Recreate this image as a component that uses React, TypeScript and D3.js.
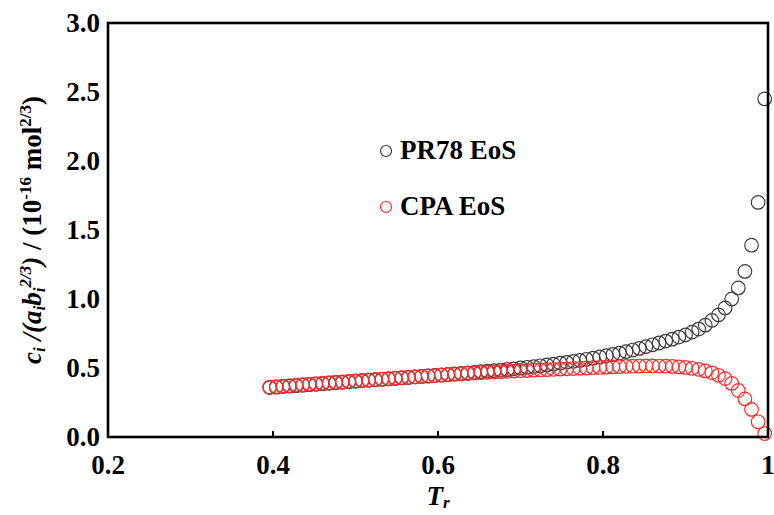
import React from "react";
import * as d3 from "d3";

// reduced temperature
const trValues = [
  0.396, 0.404, 0.412, 0.42, 0.428, 0.436, 0.444, 0.452, 0.46, 0.468, 0.476, 0.484, 0.492, 0.5,
  0.508, 0.516, 0.524, 0.532, 0.54, 0.548, 0.556, 0.564, 0.572, 0.58, 0.588, 0.596, 0.604, 0.612,
  0.62, 0.628, 0.636, 0.644, 0.652, 0.66, 0.668, 0.676, 0.684, 0.692, 0.7, 0.708, 0.716, 0.724,
  0.732, 0.74, 0.748, 0.756, 0.764, 0.772, 0.78, 0.788, 0.796, 0.804, 0.812, 0.82, 0.828, 0.836,
  0.844, 0.852, 0.86, 0.868, 0.876, 0.884, 0.892, 0.9, 0.908, 0.916, 0.924, 0.932, 0.94, 0.948,
  0.956, 0.964, 0.972, 0.98, 0.988, 0.996,
];

const pr78Values = [
  0.358, 0.361, 0.365, 0.368, 0.372, 0.375, 0.379, 0.382, 0.386, 0.389, 0.393, 0.396, 0.4, 0.403,
  0.407, 0.41, 0.414, 0.417, 0.421, 0.424, 0.428, 0.431, 0.435, 0.439, 0.442, 0.446, 0.45, 0.453,
  0.457, 0.461, 0.465, 0.469, 0.473, 0.477, 0.481, 0.485, 0.489, 0.494, 0.5, 0.505, 0.51, 0.516,
  0.522, 0.528, 0.535, 0.541, 0.548, 0.555, 0.563, 0.571, 0.58, 0.589, 0.598, 0.608, 0.619, 0.63,
  0.642, 0.655, 0.668, 0.681, 0.695, 0.709, 0.724, 0.74, 0.76, 0.782, 0.81, 0.845, 0.885, 0.935,
  1.0, 1.08, 1.2, 1.39, 1.7, 2.45,
];

const cpaValues = [
  0.362, 0.365, 0.369, 0.372, 0.376, 0.379, 0.383, 0.386, 0.39, 0.393, 0.397, 0.4, 0.404, 0.407,
  0.41, 0.413, 0.417, 0.42, 0.423, 0.426, 0.43, 0.433, 0.436, 0.439, 0.442, 0.445, 0.448, 0.451,
  0.454, 0.457, 0.46, 0.463, 0.466, 0.468, 0.471, 0.473, 0.476, 0.478, 0.48, 0.482, 0.484, 0.486,
  0.488, 0.49, 0.492, 0.494, 0.496, 0.498, 0.5, 0.502, 0.504, 0.506, 0.508, 0.51, 0.512, 0.513,
  0.514, 0.515, 0.515, 0.514, 0.513, 0.511, 0.508, 0.504, 0.498, 0.49, 0.479, 0.465, 0.447, 0.423,
  0.388, 0.337, 0.276, 0.2, 0.11, 0.025,
];

const xTicks = [0.2, 0.4, 0.6, 0.8, 1.0];
const yTicks = [0, 0.5, 1.0, 1.5, 2.0, 2.5, 3.0];
const seriesNames = ["PR78 EoS", "CPA EoS"];
const seriesColors = ["#3c3c3c", "#ff2a2a"];

const W = 774;
const H = 515;
const margin = { top: 23, right: 6, bottom: 78, left: 108 };
const font = "'Liberation Serif', 'Times New Roman', serif";

export default function App() {
  const x = d3.scaleLinear().domain([0.2, 1.0]).range([margin.left, W - margin.right]);
  const y = d3.scaleLinear().domain([0, 3.0]).range([H - margin.bottom, margin.top]);

  const series = [pr78Values, cpaValues].map((vals, s) =>
    vals.map((v, i) => ({ tr: trValues[i], v, s }))
  );

  const x0 = x.range()[0], x1 = x.range()[1];
  const y0 = y.range()[0], y1 = y.range()[1];

  const sub = { baselineShift: -4, fontSize: 17 } as any;
  const sup = { baselineShift: 10, fontSize: 17 } as any;

  return (
    <svg
      width={W}
      height={H}
      style={{ position: "absolute", left: 0, top: 0, background: "#fff" }}
      fontFamily={font}
    >
      {/* x ticks, inside */}
      {xTicks.slice(1, -1).map((t) => (
        <line key={t} x1={x(t)} x2={x(t)} y1={y0} y2={y0 - 6} stroke="#000" strokeWidth={2} />
      ))}
      {/* tick labels */}
      {xTicks.map((t) => (
        <text key={t} x={x(t)} y={y0 + 37} textAnchor="middle" fontSize={27} fontWeight="bold">
          {t === 1 ? "1" : d3.format(".1f")(t)}
        </text>
      ))}
      {yTicks.map((t) => (
        <text key={t} x={x0 - 8} y={y(t) + 9} textAnchor="end" fontSize={27} fontWeight="bold">
          {d3.format(".1f")(t)}
        </text>
      ))}

      {/* points */}
      {series.map((pts, s) => (
        <g key={s}>
          {pts.map((p, i) => (
            <circle
              key={i}
              cx={x(p.tr)}
              cy={y(p.v)}
              r={6.8}
              fill="none"
              stroke={seriesColors[s]}
              strokeWidth={1.2}
            />
          ))}
        </g>
      ))}

      {/* frame */}
      <rect x={x0} y={y1} width={x1 - x0} height={y0 - y1} fill="none" stroke="#000" strokeWidth={2.6} />

      {/* legend */}
      {seriesNames.map((name, i) => (
        <g key={name} transform={`translate(386,${151 + i * 56})`}>
          <circle r={5.5} fill="none" stroke={seriesColors[i]} strokeWidth={1.2} />
          <text x={14} y={8} fontSize={27} fontWeight="bold">
            {name}
          </text>
        </g>
      ))}

      {/* x title */}
      <text x={(x0 + x1) / 2} y={505} textAnchor="middle" fontSize={27} fontWeight="bold" fontStyle="italic">
        T<tspan baselineShift={-3} fontSize={17}>r</tspan>
      </text>

      {/* y title */}
      <text
        transform={`translate(41,${(y0 + y1) / 2}) rotate(-90)`}
        textAnchor="middle"
        fontSize={27}
        fontWeight="bold"
      >
        <tspan fontStyle="italic">c</tspan>
        <tspan fontStyle="italic" {...sub}>i</tspan>
        <tspan fontStyle="italic"> /(a</tspan>
        <tspan fontStyle="italic" {...sub}>i</tspan>
        <tspan fontStyle="italic">b</tspan>
        <tspan fontStyle="italic" {...sub}>i</tspan>
        <tspan fontStyle="italic" {...sup}>2/3</tspan>
        <tspan fontStyle="italic">)</tspan>
        <tspan> / (10</tspan>
        <tspan {...sup}>-16</tspan>
        <tspan> mol</tspan>
        <tspan {...sup}>2/3</tspan>
        <tspan>)</tspan>
      </text>
    </svg>
  );
}
